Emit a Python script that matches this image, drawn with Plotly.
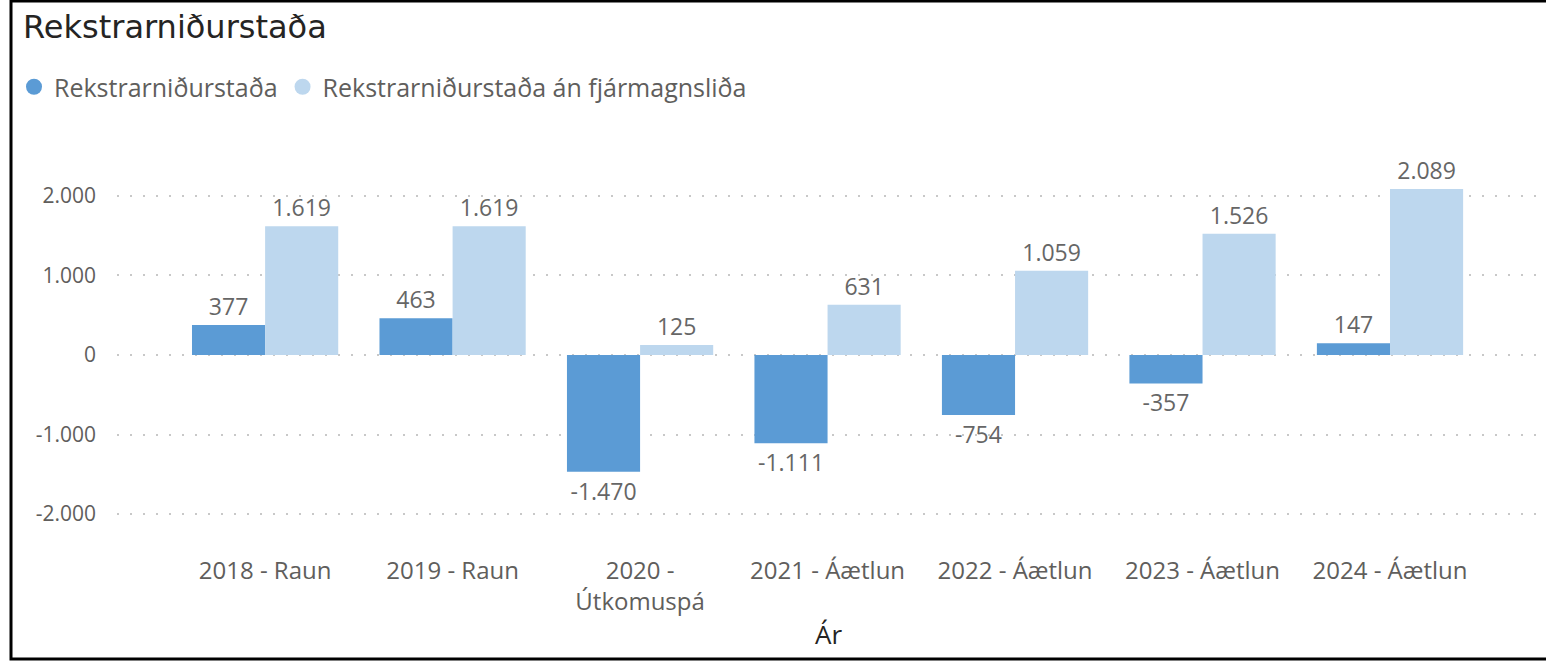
import plotly.graph_objects as go

# Data
categories = ["2018 - Raun", "2019 - Raun", "2020 -<br>Útkomuspá", "2021 - Áætlun",
              "2022 - Áætlun", "2023 - Áætlun", "2024 - Áætlun"]
rekstur = [377, 463, -1470, -1111, -754, -357, 147]
rekstur_an_fjarm = [1619, 1619, 125, 631, 1059, 1526, 2089]
series_names = ["Rekstrarniðurstaða", "Rekstrarniðurstaða án fjármagnsliða"]
colors = ["#5B9BD5", "#BDD7EE"]
ytick_vals = [-2000, -1000, 0, 1000, 2000]
ytick_text = ["-2.000", "-1.000", "0", "1.000", "2.000"]

W, H = 1546, 661
ml, mr, mt, mb = 117, 6, 130, 121
font = "Open Sans"

fig = go.Figure()

for name, vals, col in zip(series_names, [rekstur, rekstur_an_fjarm], colors):
    fig.add_trace(go.Bar(
        x=list(range(len(categories))), y=vals, name=name,
        marker=dict(color=col, line=dict(width=0)),
        texttemplate="%{y:,}", textposition="outside", cliponaxis=False,
        textfont=dict(size=23, color="#666666", family=font),
        showlegend=False,
    ))
    # circle legend entries
    fig.add_trace(go.Scatter(
        x=[None], y=[None], mode="markers", name=name,
        marker=dict(symbol="circle", size=20, color=col),
    ))

# border of the visual: open on the right side
pw, ph = W - ml - mr, H - mt - mb
xl = (11 - ml) / pw
xr = (W + 4 - ml) / pw
yt = (H - mb - 1) / ph
yb = (H - mb - 659) / ph
fig.add_shape(type="path", xref="paper", yref="paper",
              path=f"M {xr},{yt} L {xl},{yt} L {xl},{yb} L {xr},{yb}",
              line=dict(color="black", width=3), fillcolor="rgba(0,0,0,0)")

fig.update_layout(
    width=W, height=H,
    margin=dict(l=ml, r=mr, t=mt, b=mb),
    paper_bgcolor="white", plot_bgcolor="white",
    separators=",.",
    barmode="group", bargap=0.22, bargroupgap=0,
    font=dict(family=font, color="#605E5C"),
    title=dict(text="Rekstrarniðurstaða", x=23 / W, xanchor="left",
               y=1 - 27 / H, yanchor="middle",
               font=dict(size=32, color="#252423", family="DejaVu Sans")),
    legend=dict(orientation="h", xref="container", yref="container",
                x=14 / W, xanchor="left", y=1 - 87 / H, yanchor="middle",
                font=dict(size=25, color="#605E5C", family=font),
                itemwidth=30, traceorder="normal", bgcolor="rgba(0,0,0,0)"),
    xaxis=dict(
        tickmode="array", tickvals=list(range(len(categories))), ticktext=categories,
        range=[-0.79, 6.8], showgrid=False, zeroline=False, showline=False,
        tickfont=dict(size=24, color="#605E5C"), ticklabelstandoff=14,
        title=dict(text="Ár", font=dict(size=26, color="#252423"), standoff=9),
    ),
    yaxis=dict(
        range=[-2327, 2830], tickvals=ytick_vals, ticktext=ytick_text,
        showgrid=True, gridcolor="#C8C8C8", griddash="2px,11px",
        gridwidth=2, zeroline=False, showline=False,
        tickfont=dict(size=21, color="#605E5C"), ticklabelstandoff=20,
    ),
)

fig.write_html("out.html", config={"displayModeBar": False},
               post_script="document.body.style.margin='0';"
                           "document.body.style.overflow='hidden';"
                           "document.documentElement.style.overflow='hidden';")
